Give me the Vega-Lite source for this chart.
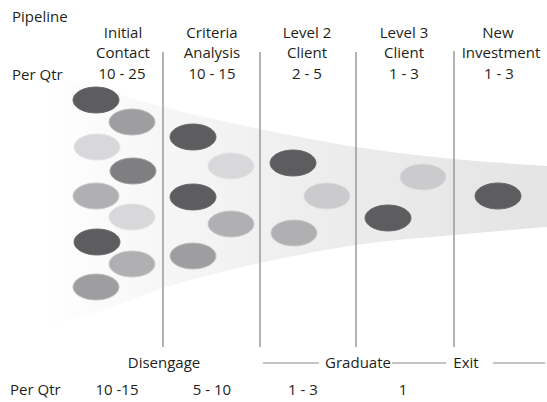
{
  "$schema": "https://vega.github.io/schema/vega-lite/v6.json",
  "width": 547,
  "height": 402,
  "autosize": "none",
  "padding": 0,
  "background": "white",
  "config": {"view": {"stroke": null}},
  "datasets": {
    "funnel": [
      {"x": 42, "top": 73, "bottom": 328},
      {"x": 100, "top": 89, "bottom": 311},
      {"x": 163, "top": 107, "bottom": 288},
      {"x": 260, "top": 129, "bottom": 263},
      {"x": 356, "top": 147, "bottom": 245},
      {"x": 454, "top": 159, "bottom": 235},
      {"x": 547, "top": 166, "bottom": 227}
    ],
    "dividers": [
      {"x": 163, "y1": 52, "y2": 347},
      {"x": 260, "y1": 52, "y2": 347},
      {"x": 356, "y1": 52, "y2": 347},
      {"x": 454, "y1": 51, "y2": 347}
    ],
    "connectors": [
      {"x1": 263, "x2": 319, "y": 363},
      {"x1": 392, "x2": 446, "y": 363},
      {"x1": 493, "x2": 545, "y": 363}
    ],
    "prospects": [
      {"x": 96, "y": 100, "shade": "dark"},
      {"x": 132, "y": 122, "shade": "mid"},
      {"x": 97, "y": 147, "shade": "light"},
      {"x": 133, "y": 171, "shade": "middark"},
      {"x": 96, "y": 196, "shade": "midlight"},
      {"x": 132, "y": 217, "shade": "light"},
      {"x": 97, "y": 242, "shade": "dark"},
      {"x": 132, "y": 264, "shade": "midlight"},
      {"x": 96, "y": 287, "shade": "mid"},
      {"x": 193, "y": 137, "shade": "dark"},
      {"x": 231, "y": 166, "shade": "light"},
      {"x": 193, "y": 197, "shade": "dark"},
      {"x": 231, "y": 224, "shade": "midlight"},
      {"x": 193, "y": 256, "shade": "mid"},
      {"x": 293, "y": 163, "shade": "dark"},
      {"x": 327, "y": 196, "shade": "light2"},
      {"x": 294, "y": 233, "shade": "midlight"},
      {"x": 423, "y": 177, "shade": "light2"},
      {"x": 388, "y": 218, "shade": "dark"},
      {"x": 498, "y": 196, "shade": "dark"}
    ],
    "centerText": [
      {"x": 123, "y": 33, "label": "Initial"},
      {"x": 123, "y": 53, "label": "Contact"},
      {"x": 122, "y": 74, "label": "10 - 25"},
      {"x": 212, "y": 33, "label": "Criteria"},
      {"x": 212, "y": 53, "label": "Analysis"},
      {"x": 212, "y": 74, "label": "10 - 15"},
      {"x": 307, "y": 33, "label": "Level 2"},
      {"x": 307, "y": 53, "label": "Client"},
      {"x": 307, "y": 74, "label": "2 - 5"},
      {"x": 404, "y": 33, "label": "Level 3"},
      {"x": 404, "y": 53, "label": "Client"},
      {"x": 404, "y": 74, "label": "1 - 3"},
      {"x": 498, "y": 33, "label": "New"},
      {"x": 501, "y": 53, "label": "Investment"},
      {"x": 499, "y": 74, "label": "1 - 3"},
      {"x": 164, "y": 363, "label": "Disengage"},
      {"x": 358, "y": 363, "label": "Graduate"},
      {"x": 466, "y": 363, "label": "Exit"},
      {"x": 117, "y": 390, "label": "10 -15"},
      {"x": 212, "y": 390, "label": "5 - 10"},
      {"x": 303, "y": 390, "label": "1 - 3"},
      {"x": 403, "y": 390, "label": "1"}
    ],
    "leftText": [
      {"x": 12, "y": 17, "label": "Pipeline"},
      {"x": 12, "y": 75, "label": "Per Qtr"},
      {"x": 10, "y": 390, "label": "Per Qtr"}
    ]
  },
  "layer": [
    {
      "data": {"name": "funnel"},
      "mark": {
        "type": "area",
        "interpolate": "monotone",
        "color": {
          "gradient": "linear",
          "x1": 0, "y1": 0, "x2": 1, "y2": 0,
          "stops": [
            {"offset": 0, "color": "#ffffff"},
            {"offset": 0.25, "color": "#f6f6f6"},
            {"offset": 0.6, "color": "#ececec"},
            {"offset": 1, "color": "#e4e4e4"}
          ]
        }
      },
      "encoding": {
        "x": {"field": "x", "type": "quantitative", "scale": {"domain": [0, 547], "nice": false, "zero": false}, "axis": null},
        "y": {"field": "top", "type": "quantitative", "scale": {"domain": [0, 402], "nice": false, "zero": false, "reverse": true}, "axis": null},
        "y2": {"field": "bottom"}
      }
    },
    {
      "data": {"name": "dividers"},
      "mark": {"type": "rule", "color": "#9a9a9c", "strokeWidth": 1.5},
      "encoding": {
        "x": {"field": "x", "type": "quantitative"},
        "y": {"field": "y1", "type": "quantitative"},
        "y2": {"field": "y2"}
      }
    },
    {
      "data": {"name": "connectors"},
      "mark": {"type": "rule", "color": "#8a8a8c", "strokeWidth": 1},
      "encoding": {
        "x": {"field": "x1", "type": "quantitative"},
        "x2": {"field": "x2"},
        "y": {"field": "y", "type": "quantitative"}
      }
    },
    {
      "data": {"name": "prospects"},
      "mark": {
        "type": "point",
        "filled": true,
        "opacity": 1,
        "shape": "M-1,0 A1,0.565 0 1,1 1,0 A1,0.565 0 1,1 -1,0 Z",
        "size": 2116,
        "strokeWidth": 1
      },
      "encoding": {
        "x": {"field": "x", "type": "quantitative"},
        "y": {"field": "y", "type": "quantitative"},
        "fill": {
          "field": "shade", "type": "nominal", "legend": null,
          "scale": {
            "domain": ["dark", "middark", "mid", "midlight", "light2", "light"],
            "range": ["#5d5d5f", "#7f7f82", "#9e9ea0", "#b0b0b2", "#cbcbcd", "#d8d8da"]
          }
        },
        "stroke": {
          "field": "shade", "type": "nominal", "legend": null,
          "scale": {
            "domain": ["dark", "middark", "mid", "midlight", "light2", "light"],
            "range": ["#6a6a6c", "#a0a0a2", "#bdbdbf", "#cacacc", "#dcdcde", "#e4e4e6"]
          }
        }
      }
    },
    {
      "data": {"name": "centerText"},
      "mark": {"type": "text", "align": "center", "baseline": "middle", "font": "Open Sans", "fontSize": 15, "color": "#231f20"},
      "encoding": {
        "x": {"field": "x", "type": "quantitative"},
        "y": {"field": "y", "type": "quantitative"},
        "text": {"field": "label"}
      }
    },
    {
      "data": {"name": "leftText"},
      "mark": {"type": "text", "align": "left", "baseline": "middle", "font": "Open Sans", "fontSize": 15, "color": "#231f20"},
      "encoding": {
        "x": {"field": "x", "type": "quantitative"},
        "y": {"field": "y", "type": "quantitative"},
        "text": {"field": "label"}
      }
    }
  ]
}
